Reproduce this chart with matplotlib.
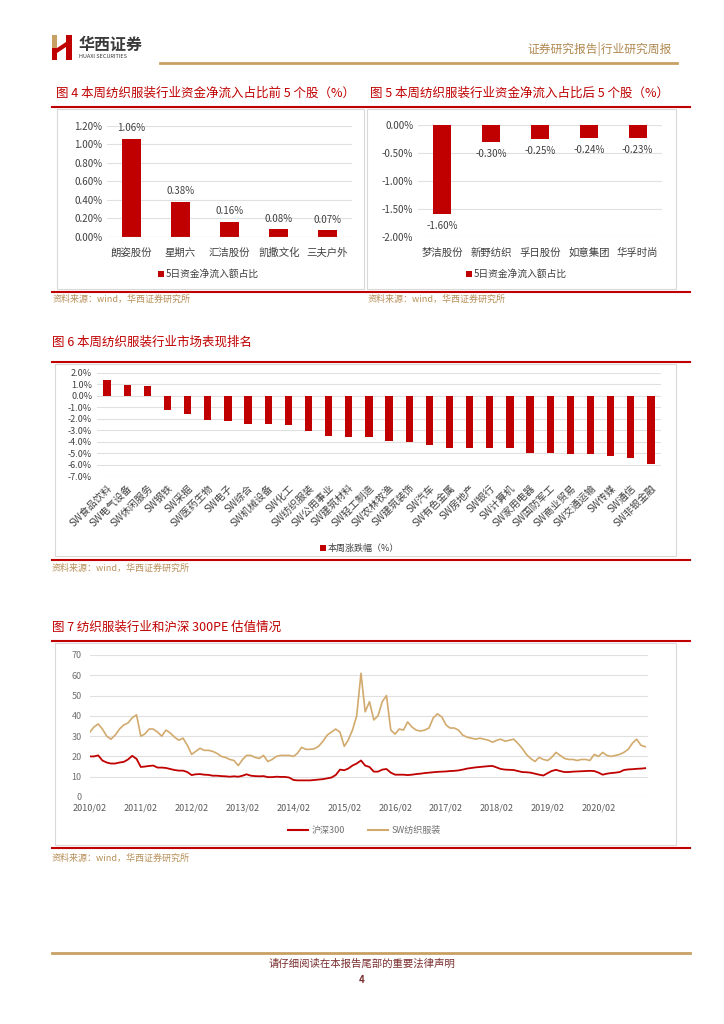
import numpy as np
import pandas as pd
import matplotlib
matplotlib.use('Agg')
import matplotlib.pyplot as plt
from matplotlib.lines import Line2D
from matplotlib.patches import Rectangle, Polygon

plt.rcParams['font.family'] = ['Noto Sans CJK SC', 'DejaVu Sans']
plt.rcParams['axes.unicode_minus'] = False

# ---- data ----
top5_names = ['朗姿股份', '星期六', '汇洁股份', '凯撒文化', '三夫户外']
top5_vals = [1.06, 0.38, 0.16, 0.08, 0.07]
bot5_names = ['梦洁股份', '新野纺织', '孚日股份', '如意集团', '华孚时尚']
bot5_vals = [-1.60, -0.30, -0.25, -0.24, -0.23]

sw_names = ['SW食品饮料', 'SW电气设备', 'SW休闲服务', 'SW钢铁', 'SW采掘', 'SW医药生物',
            'SW电子', 'SW综合', 'SW机械设备', 'SW化工', 'SW纺织服装', 'SW公用事业',
            'SW建筑材料', 'SW轻工制造', 'SW农林牧渔', 'SW建筑装饰', 'SW汽车', 'SW有色金属',
            'SW房地产', 'SW银行', 'SW计算机', 'SW家用电器', 'SW国防军工', 'SW商业贸易',
            'SW交通运输', 'SW传媒', 'SW通信', 'SW非银金融']
sw_vals = [1.39, 0.96, 0.87, -1.22, -1.59, -2.08, -2.23, -2.46, -2.46, -2.55, -3.10, -3.50,
           -3.59, -3.57, -3.95, -4.03, -4.27, -4.52, -4.58, -4.58, -4.58, -4.99, -4.99, -5.07,
           -5.07, -5.24, -5.39, -5.94]

# monthly PE, 2010/02 .. 2021/01
pe_start = '2010-02'
pe_textile = [32, 34.5, 36, 33.5, 30, 28.5, 30.5, 33.5, 35.5, 36.5, 39, 40.5,
              30, 31, 33.5, 33.5, 32, 30, 33, 31.5, 29.5, 28, 29, 25.5,
              21, 22.5, 24, 23, 23, 22.5, 21.5, 20, 19.5, 18.5, 18, 15.5,
              18.5, 20.5, 20.5, 19.5, 19, 20.5, 17.5, 18.5, 20, 20.5, 20.5, 20.5,
              20, 21.5, 24.5, 23.5, 23.5, 23.8, 25, 27.5, 30.5, 32, 33.5, 32,
              25, 28, 33, 40, 61, 42, 47, 38, 40, 47, 50, 33,
              31, 33.5, 33, 37, 34.5, 33, 32.5, 33, 34, 39, 41, 39.5,
              35.5, 34, 34, 33, 30.5, 29.5, 29, 28.5, 29, 28.5, 28, 27,
              28, 28.5, 27.5, 28, 28.5, 26.5, 24, 21, 19, 17.5, 19.5, 18.5,
              18, 19.5, 22, 20.5, 19, 18.5, 18.5, 18, 18.5, 18.5, 18, 21,
              20, 22, 20.5, 20, 20.5, 21, 22, 23.5, 26.5, 28.5, 25.5, 24.8]
pe_hs300 = [20, 20, 20.5, 18, 17, 16.5, 16.5, 17, 17.3, 18.5, 20.3, 18.8,
            14.8, 15, 15.3, 15.5, 14.5, 14.5, 14.3, 13.8, 13.3, 13, 13, 12.3,
            10.8, 11.2, 11.3, 11, 10.9, 10.5, 10.5, 10.3, 10.2, 10, 10.2, 10,
            10.5, 11.2, 10.5, 10.3, 10.2, 10.3, 9.8, 9.8, 10, 9.9, 9.9, 9.6,
            8.4, 8.2, 8.2, 8.2, 8.2, 8.4, 8.6, 8.8, 9.2, 9.6, 10.8, 13.5,
            13.2, 14, 15.5, 16.5, 18, 15.5, 14.8, 12.5, 12.5, 13.5, 13.8, 12,
            11, 11, 11, 10.8, 11, 11.3, 11.5, 11.8, 12, 12.2, 12.4, 12.5,
            12.6, 12.8, 12.9, 13.1, 13.5, 14, 14.3, 14.6, 14.8, 15, 15.2, 15.3,
            14.5, 13.8, 13.5, 13.4, 13.3, 12.8, 12.3, 12.2, 12, 11.5, 11, 10.6,
            11.8, 12.8, 13.4, 12.8, 12.3, 12.3, 12.5, 12.6, 12.7, 12.8, 12.9, 12.8,
            12, 11, 11.5, 11.8, 12, 12.3, 13.3, 13.6, 13.7, 13.9, 14, 14.2]

RED = '#c00000'
GOLD = '#d2aa6d'
GRID = '#e0e0e0'
TXT = '#404040'
SRC = '#b8905a'

W, H = 724, 1024
fig = plt.figure(figsize=(W / 100, H / 100), dpi=100)


def fx(x):
    return x / W


def fy(y):
    return 1 - y / H


def add_ax(x0, y0, x1, y1):
    return fig.add_axes([x0 / W, 1 - y1 / H, (x1 - x0) / W, (y1 - y0) / H])


def hline(x0, x1, y, color, lw):
    fig.add_artist(Line2D([fx(x0), fx(x1)], [fy(y), fy(y)], color=color, lw=lw))


def box(x0, y0, x1, y1):
    fig.add_artist(Rectangle((fx(x0), fy(y1)), (x1 - x0) / W, (y1 - y0) / H,
                             fill=False, ec='#d9d9d9', lw=0.8))


def txt(x, y, s, **kw):
    kw.setdefault('va', 'center')
    fig.text(fx(x), fy(y), s, **kw)


def sq_legend(x, y, label, size=7):
    fig.add_artist(Rectangle((fx(x), fy(y + 3)), 6 / W, 6 / H, color=RED, lw=0))
    txt(x + 8, y, label, fontsize=size, color=TXT)


def style(ax):
    for s in ax.spines.values():
        s.set_visible(False)
    ax.tick_params(length=0, colors=TXT)
    ax.grid(axis='y', color=GRID, lw=0.8)
    ax.set_axisbelow(True)


# ---- header ----
fig.add_artist(Polygon([(fx(52), fy(35)), (fx(57), fy(35)), (fx(57), fy(48)), (fx(52), fy(48))],
                       closed=True, color='#c9a063', lw=0))
fig.add_artist(Polygon([(fx(52), fy(48)), (fx(57), fy(48)), (fx(57), fy(60)), (fx(52), fy(60))],
                       closed=True, color=RED, lw=0))
fig.add_artist(Polygon([(fx(66), fy(35)), (fx(72), fy(35)), (fx(72), fy(60)), (fx(66), fy(60))],
                       closed=True, color=RED, lw=0))
fig.add_artist(Polygon([(fx(57), fy(48)), (fx(66), fy(42)), (fx(66), fy(47)), (fx(57), fy(53))],
                       closed=True, color=RED, lw=0))
txt(79, 45, '华西证券', fontsize=11.5, color='#3a3a3a', fontweight='bold')
txt(79, 57, 'HUAXI SECURITIES', fontsize=4, color='#3a3a3a')
txt(672, 49, '证券研究报告|行业研究周报', fontsize=8.5, color='#b08850', ha='right')
hline(160, 677, 63, '#c9a063', 2)

# ---- fig 4 / fig 5 ----
txt(56, 93, '图 4 本周纺织服装行业资金净流入占比前 5 个股（%）', fontsize=9, color=RED)
txt(370, 93, '图 5 本周纺织服装行业资金净流入占比后 5 个股（%）', fontsize=9, color=RED)
hline(52, 690, 107, RED, 1.5)
box(57, 109, 364, 289)
box(367, 109, 676, 289)

ax4 = add_ax(107, 125.7, 352, 236.7)
style(ax4)
x = np.arange(len(top5_vals))
ax4.bar(x, top5_vals, width=0.37, color=RED)
ax4.set_xlim(-0.5, 4.5)
ax4.set_ylim(0, 1.2)
yt = np.arange(0, 1.21, 0.2)
ax4.set_yticks(yt)
ax4.set_yticklabels([f'{v:.2f}%' for v in yt], fontsize=7)
ax4.set_xticks(x)
ax4.set_xticklabels(top5_names, fontsize=7.5)
ax4.tick_params(axis='x', pad=8)
ax4.axhline(0, color='#d0d0d0', lw=0.8)
for xi, v in zip(x, top5_vals):
    ax4.annotate(f'{v:.2f}%', (xi, v), xytext=(0, 4), textcoords='offset points',
                 ha='center', va='bottom', fontsize=7, color=TXT)
sq_legend(158, 274, '5日资金净流入额占比')

ax5 = add_ax(418, 125, 662, 236.7)
style(ax5)
ax5.bar(x, bot5_vals, width=0.37, color=RED)
ax5.set_xlim(-0.5, 4.5)
ax5.set_ylim(-2.0, 0)
yt = np.arange(-2.0, 0.01, 0.5)
ax5.set_yticks(yt)
ax5.set_yticklabels([f'{v:.2f}%' for v in yt], fontsize=7)
ax5.set_xticks(x)
ax5.set_xticklabels(bot5_names, fontsize=7.5)
ax5.tick_params(axis='x', pad=8)
for xi, v in zip(x, bot5_vals):
    ax5.annotate(f'{v:.2f}%', (xi, v), xytext=(0, -5), textcoords='offset points',
                 ha='center', va='top', fontsize=7, color=TXT)
sq_legend(466, 274, '5日资金净流入额占比')

hline(52, 690, 292, RED, 1.5)
txt(53, 299, '资料来源：wind，华西证券研究所', fontsize=6.5, color=SRC)
txt(368, 299, '资料来源：wind，华西证券研究所', fontsize=6.5, color=SRC)

# ---- fig 6 ----
txt(52, 342, '图 6 本周纺织服装行业市场表现排名', fontsize=9, color=RED)
hline(52, 690, 362, RED, 1.5)
box(55, 364, 676, 556)
ax6 = add_ax(97, 373, 661, 476)
style(ax6)
x6 = np.arange(len(sw_vals))
ax6.bar(x6, sw_vals, width=0.36, color=RED)
ax6.set_xlim(-0.5, len(sw_vals) - 0.5)
ax6.set_ylim(-7, 2)
yt = np.arange(-7, 2.1, 1)
ax6.set_yticks(yt)
ax6.set_yticklabels([f'{v:.1f}%' for v in yt], fontsize=6.5)
ax6.set_xticks(x6)
ax6.set_xticklabels(sw_names, fontsize=7.2, rotation=45, ha='right', rotation_mode='anchor')
ax6.tick_params(axis='x', pad=5)
sq_legend(320, 548, '本周涨跌幅（%）', size=6.5)
hline(52, 690, 560, RED, 1.5)
txt(52, 568, '资料来源：wind，华西证券研究所', fontsize=6.5, color=SRC)

# ---- fig 7 ----
txt(52, 627, '图 7 纺织服装行业和沪深 300PE 估值情况', fontsize=9, color=RED)
hline(52, 690, 641, RED, 1.5)
box(55, 643, 676, 845)
dates = pd.date_range(pe_start, periods=len(pe_textile), freq='MS')
ax7 = add_ax(90, 655, 648, 797)
style(ax7)
ax7.plot(dates, pe_hs300, color=RED, lw=1.3)
ax7.plot(dates, pe_textile, color=GOLD, lw=1.2)
ax7.set_ylim(0, 70)
ax7.set_yticks(range(0, 71, 10))
ax7.tick_params(axis='y', labelsize=6.5, colors='#707070', pad=6)
ax7.set_xlim(dates[0], dates[-1] + pd.Timedelta(days=20))
xt = pd.date_range('2010-02', '2020-02', freq='12MS')
ax7.set_xticks(xt)
ax7.set_xticklabels([d.strftime('%Y/%m') for d in xt], fontsize=6.5, color='#595959')
ax7.tick_params(axis='x', pad=5)
fig.add_artist(Line2D([fx(288), fx(308)], [fy(830), fy(830)], color=RED, lw=1.5))
txt(312, 830, '沪深300', fontsize=6.5, color='#707070')
fig.add_artist(Line2D([fx(368), fx(388)], [fy(830), fy(830)], color=GOLD, lw=1.5))
txt(392, 830, 'SW纺织服装', fontsize=6.5, color='#707070')
hline(52, 690, 848, RED, 1.5)
txt(52, 858, '资料来源：wind，华西证券研究所', fontsize=6.5, color=SRC)

# ---- footer ----
hline(52, 690, 953, '#c9a063', 2)
txt(362, 964, '请仔细阅读在本报告尾部的重要法律声明', fontsize=7.5, color='#7a2e2e', ha='center')
txt(362, 980, '4', fontsize=7, color='#7a2e2e', ha='center', fontweight='bold')

fig.savefig('out.png', dpi=100)
